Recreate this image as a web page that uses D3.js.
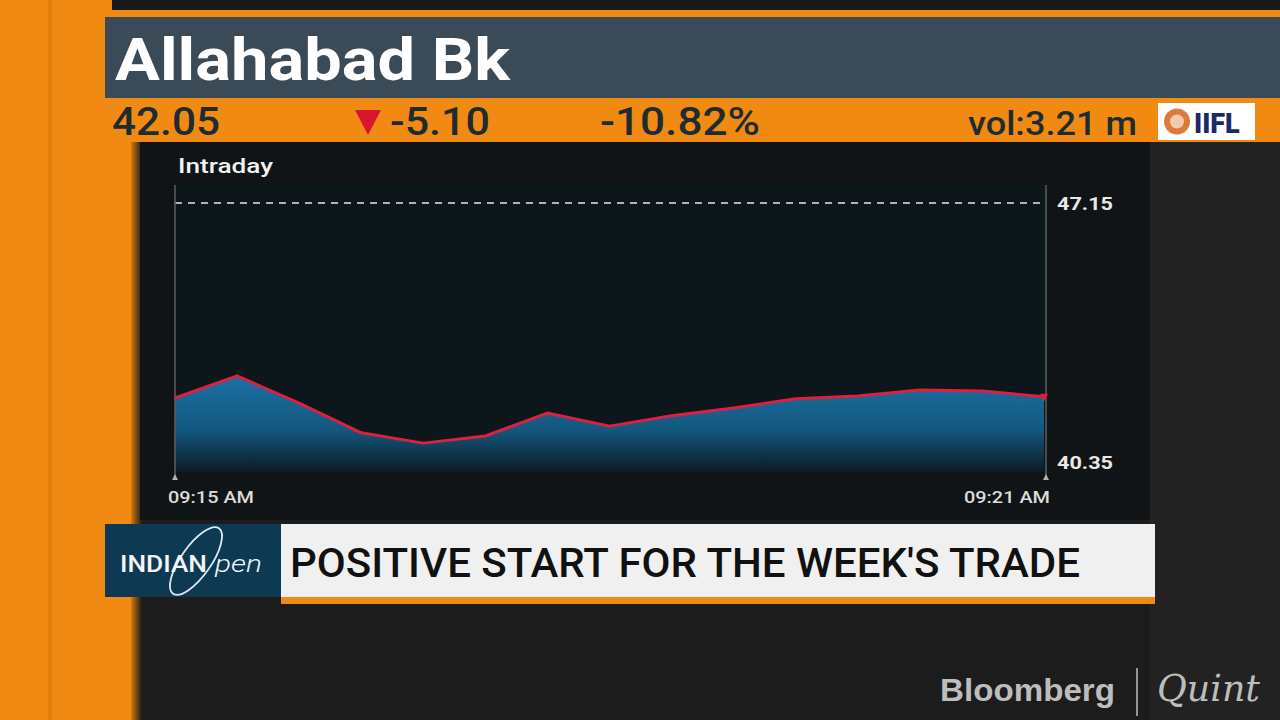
<!DOCTYPE html>
<html>
<head>
<meta charset="utf-8">
<script src="https://cdn.jsdelivr.net/npm/d3@7"></script>
<style>
  body { margin: 0; background: #1b1b1b; }
  svg { display: block; font-family: Roboto, "Noto Sans", sans-serif; }
</style>
</head>
<body>
<div class="chart"></div>
<script>
// data
const times = ["09:15", "", "", "", "", "", "", "", "", "", "", "", "", "", "09:21"];
const prices = [42.22, 42.78, 42.09, 41.34, 41.08, 41.26, 41.84, 41.51, 41.77, 41.97, 42.2, 42.27, 42.42, 42.4, 42.25];
const yTicks = [40.35, 47.15];
const xTickLabels = ["09:15 AM", "09:21 AM"];
const quote = { name: "Allahabad Bk", last: "42.05", change: "-5.10", pct: "-10.82%", vol: "vol:3.21 m" };
const headline = "POSITIVE START FOR THE WEEK'S TRADE";

const width = 1280,
  height = 720;
const orange = "#f18a12";

const svg = d3
  .select(".chart")
  .append("svg")
  .attr("width", width)
  .attr("height", height);

const defs = svg.append("defs");
const grad = defs
  .append("linearGradient")
  .attr("id", "areaGrad")
  .attr("gradientUnits", "userSpaceOnUse")
  .attr("x1", 0).attr("x2", 0)
  .attr("y1", 375).attr("y2", 474);
grad.append("stop").attr("offset", "0%").attr("stop-color", "#1a72a6");
grad.append("stop").attr("offset", "55%").attr("stop-color", "#13587f");
grad.append("stop").attr("offset", "100%").attr("stop-color", "#0b1820");

const leftShade = defs
  .append("linearGradient")
  .attr("id", "leftShade")
  .attr("x1", 0).attr("x2", 1).attr("y1", 0).attr("y2", 0);
leftShade.append("stop").attr("offset", "0%").attr("stop-color", "#d87a0a");
leftShade.append("stop").attr("offset", "100%").attr("stop-color", "#1b1b1b");

// background pieces
svg.append("rect").attr("width", width).attr("height", height).attr("fill", "#1c1c1c");
svg.append("rect").attr("x", 1150).attr("y", 142).attr("width", 130).attr("height", 578).attr("fill", "#222222");
svg.append("rect").attr("x", 0).attr("y", 0).attr("width", 137).attr("height", height).attr("fill", orange);
svg.append("rect").attr("x", 48).attr("y", 0).attr("width", 4).attr("height", height).attr("fill", "#e07f0c");
svg.append("rect").attr("x", 131).attr("y", 0).attr("width", 11).attr("height", height).attr("fill", "url(#leftShade)");
svg.append("rect").attr("x", 112).attr("y", 0).attr("width", 1168).attr("height", 10).attr("fill", "#191919");
svg.append("rect").attr("x", 105).attr("y", 10).attr("width", 1175).attr("height", 7).attr("fill", orange);

// header
svg.append("rect").attr("x", 105).attr("y", 17).attr("width", 1175).attr("height", 81).attr("fill", "#3b4a57");
svg.append("text")
  .attr("x", 115).attr("y", 80)
  .attr("fill", "#ffffff")
  .attr("font-size", 60).attr("font-weight", 700)
  .attr("textLength", 395).attr("lengthAdjust", "spacingAndGlyphs")
  .text(quote.name);

svg.append("rect").attr("x", 105).attr("y", 98).attr("width", 1175).attr("height", 44).attr("fill", orange);
const qText = "#1d2c31";
const quoteItems = [
  { t: quote.last, x: 112, w: 108, size: 39 },
  { t: quote.change, x: 390, w: 100, size: 39 },
  { t: quote.pct, x: 600, w: 160, size: 39 },
  { t: quote.vol, x: 968, w: 169, size: 33 }
];
svg.selectAll(".quote")
  .data(quoteItems)
  .enter()
  .append("text")
  .attr("class", "quote")
  .attr("x", (d) => d.x)
  .attr("y", 135)
  .attr("fill", qText)
  .attr("font-size", (d) => d.size)
  .attr("font-weight", 500)
  .attr("textLength", (d) => d.w)
  .attr("lengthAdjust", "spacingAndGlyphs")
  .text((d) => d.t);
svg.append("path").attr("d", "M355,110 L381,110 L368,135 Z").attr("fill", "#d8182a");

// IIFL badge
const badge = svg.append("g").attr("transform", "translate(1158,103)");
badge.append("rect").attr("width", 97).attr("height", 37).attr("fill", "#ffffff");
badge.append("circle").attr("cx", 19).attr("cy", 18.5).attr("r", 13).attr("fill", "#e07a3a");
badge.append("circle").attr("cx", 19).attr("cy", 18.5).attr("r", 7).attr("fill", "#ffffff").attr("opacity", 0.6);
badge.append("text").attr("x", 36).attr("y", 30).attr("fill", "#1a2a6a")
  .attr("font-size", 27).attr("font-weight", 900).text("IIFL");

// chart panel
svg.append("rect").attr("x", 140).attr("y", 142).attr("width", 1010).attr("height", 378).attr("fill", "#111416");
svg.append("text").attr("x", 178).attr("y", 173).attr("fill", "#f2f2f2")
  .attr("font-size", 21).attr("font-weight", 500)
  .attr("textLength", 95).attr("lengthAdjust", "spacingAndGlyphs")
  .text("Intraday");

const plotLeft = 175,
  plotRight = 1046,
  plotTop = 203,
  plotBottom = 472;

svg.append("rect").attr("x", plotLeft).attr("y", 185).attr("width", plotRight - plotLeft).attr("height", plotBottom - 185)
  .attr("fill", "#0d171b");

const x = d3.scaleLinear().domain([0, prices.length - 1]).range([plotLeft, plotRight - 2]);
const y = d3.scaleLinear().domain([yTicks[0], yTicks[1]]).range([plotBottom, plotTop]);

const area = d3.area()
  .x((d, i) => x(i))
  .y0(plotBottom)
  .y1((d) => y(d));
const line = d3.line()
  .x((d, i) => x(i))
  .y((d) => y(d));

svg.append("path").datum(prices).attr("d", area).attr("fill", "url(#areaGrad)");

// dashed reference line (previous close)
svg.append("line")
  .attr("x1", plotLeft).attr("x2", plotRight)
  .attr("y1", y(yTicks[1])).attr("y2", y(yTicks[1]))
  .attr("stroke", "#e6e6e6").attr("stroke-width", 1.5)
  .attr("stroke-dasharray", "7,6");

// vertical edges
[plotLeft, plotRight].forEach((xx) => {
  svg.append("line")
    .attr("x1", xx).attr("x2", xx).attr("y1", 185).attr("y2", plotBottom + 4)
    .attr("stroke", "#5a5f62").attr("stroke-width", 1.5);
  svg.append("path")
    .attr("d", `M${xx - 3},${plotBottom + 8} L${xx + 3},${plotBottom + 8} L${xx},${plotBottom + 2} Z`)
    .attr("fill", "#b0b0b0");
});

svg.append("path").datum(prices).attr("d", line)
  .attr("fill", "none").attr("stroke", "#dc2040").attr("stroke-width", 3)
  .attr("stroke-linejoin", "round");

const lastX = x(prices.length - 1),
  lastY = y(prices[prices.length - 1]);
svg.append("path")
  .attr("d", `M${lastX - 4},${lastY - 3} L${lastX + 4},${lastY - 3} L${lastX},${lastY + 5} Z`)
  .attr("fill", "#dc2040");

// y labels
svg.selectAll(".ylab")
  .data(yTicks)
  .enter()
  .append("text")
  .attr("class", "ylab")
  .attr("x", 1057)
  .attr("y", (d, i) => (i === 0 ? y(d) - 3 : y(d) + 7))
  .attr("fill", "#e8e8e8")
  .attr("font-size", 19).attr("font-weight", 700)
  .attr("textLength", 56).attr("lengthAdjust", "spacingAndGlyphs")
  .text((d) => d.toFixed(2));

// x labels
svg.selectAll(".xlab")
  .data(xTickLabels)
  .enter()
  .append("text")
  .attr("class", "xlab")
  .attr("x", (d, i) => (i === 0 ? x(0) - 7 : x(prices.length - 1) + 6))
  .attr("y", 503)
  .attr("text-anchor", (d, i) => (i === 0 ? "start" : "end"))
  .attr("fill", "#dcdcdc")
  .attr("font-size", 17).attr("font-weight", 500)
  .attr("textLength", 86).attr("lengthAdjust", "spacingAndGlyphs")
  .text((d) => d);

// headline banner
svg.append("rect").attr("x", 105).attr("y", 524).attr("width", 176).attr("height", 73).attr("fill", "#0d3a52");
svg.append("rect").attr("x", 281).attr("y", 524).attr("width", 874).attr("height", 74).attr("fill", "#f0f0f0");
svg.append("rect").attr("x", 281).attr("y", 597).attr("width", 874).attr("height", 7).attr("fill", orange);
svg.append("text").attr("x", 290).attr("y", 577)
  .attr("fill", "#111111")
  .attr("font-size", 40).attr("font-weight", 500)
  .attr("textLength", 790).attr("lengthAdjust", "spacingAndGlyphs")
  .text(headline);

// INDIAN open logo
const logo = svg.append("g");
logo.append("ellipse")
  .attr("cx", 196).attr("cy", 561).attr("rx", 15).attr("ry", 40)
  .attr("transform", "rotate(35,196,561)")
  .attr("fill", "none").attr("stroke", "#dfe8ee").attr("stroke-width", 1.8);
logo.append("text").attr("x", 120).attr("y", 572)
  .attr("fill", "#f2f6f8").attr("font-size", 24).attr("font-weight", 500)
  .attr("textLength", 87).attr("lengthAdjust", "spacingAndGlyphs")
  .text("INDIAN");
logo.append("text").attr("x", 215).attr("y", 572)
  .attr("fill", "#f2f6f8").attr("font-size", 24).attr("font-style", "italic")
  .attr("font-weight", 300)
  .attr("textLength", 47).attr("lengthAdjust", "spacingAndGlyphs")
  .text("pen");

// watermark
svg.append("text").attr("x", 940).attr("y", 701)
  .attr("fill", "#bdbdbd").attr("font-size", 31).attr("font-weight", 700)
  .attr("font-family", "'Liberation Sans', Arial, sans-serif")
  .attr("textLength", 175).attr("lengthAdjust", "spacingAndGlyphs")
  .text("Bloomberg");
svg.append("line").attr("x1", 1137).attr("x2", 1137).attr("y1", 668).attr("y2", 716)
  .attr("stroke", "#bdbdbd").attr("stroke-width", 1.5);
svg.append("text").attr("x", 1157).attr("y", 701)
  .attr("fill", "#bdbdbd").attr("font-size", 38).attr("font-style", "italic")
  .attr("font-family", "'DejaVu Serif', serif").attr("font-weight", 400)
  .attr("textLength", 103).attr("lengthAdjust", "spacingAndGlyphs")
  .text("Quint");
</script>
</body>
</html>
